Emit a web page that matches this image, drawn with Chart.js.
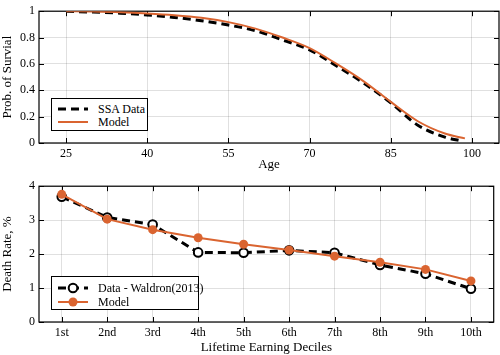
<!DOCTYPE html>
<html>
<head>
<meta charset="utf-8">
<script src="https://cdn.jsdelivr.net/npm/chart.js@4/dist/chart.umd.min.js"></script>
<style>
  html, body { margin: 0; padding: 0; background: #fff; }
  #wrap { position: relative; width: 500px; height: 355px; overflow: hidden; font-family: "Liberation Serif", serif; }
  .cv { position: absolute; left: 0; }
  .legend { position: absolute; border: 1px solid #000; background: #fff; box-sizing: border-box; font-size: 12px; color: #000; }
  .row { position: absolute; left: 0; height: 14px; width: 100%; }
  .row svg { position: absolute; left: 4px; top: 0; }
  .row span { position: absolute; left: 46px; top: 0; line-height: 14px; white-space: nowrap; }
</style>
</head>
<body>
<div id="wrap">
  <div class="cv" style="top:0;width:500px;height:175px"><canvas id="c1" width="500" height="175"></canvas></div>
  <div class="cv" style="top:175px;width:500px;height:180px"><canvas id="c2" width="500" height="180"></canvas></div>
  <div class="legend" style="left:51px;top:98px;width:97px;height:33px">
    <div class="row" style="top:3px">
      <svg width="34" height="14"><line x1="2" y1="7" x2="32" y2="7" stroke="#000" stroke-width="3" stroke-dasharray="8,5"/></svg>
      <span>SSA Data</span>
    </div>
    <div class="row" style="top:16px">
      <svg width="34" height="14"><line x1="2" y1="7" x2="32" y2="7" stroke="#DA6430" stroke-width="2"/></svg>
      <span>Model</span>
    </div>
  </div>
  <div class="legend" style="left:51px;top:276px;width:148px;height:34px">
    <div class="row" style="top:4px">
      <svg width="34" height="14"><line x1="2" y1="7" x2="32" y2="7" stroke="#000" stroke-width="3" stroke-dasharray="8,5"/><circle cx="17" cy="7" r="4.3" fill="#fff" stroke="#000" stroke-width="2"/></svg>
      <span>Data - Waldron(2013)</span>
    </div>
    <div class="row" style="top:18px">
      <svg width="34" height="14"><line x1="2" y1="7" x2="32" y2="7" stroke="#DA6430" stroke-width="2"/><circle cx="17" cy="7" r="4.5" fill="#DA6430"/></svg>
      <span>Model</span>
    </div>
  </div>
</div>
<script>
// ---------- data ----------
const ssaAges     = [25, 30, 35, 40, 45, 50, 55, 60, 65, 70, 75, 80, 85, 90, 95, 98];
const ssaSurvival = [1.0, 0.993, 0.985, 0.972, 0.953, 0.928, 0.895, 0.852, 0.782, 0.706, 0.585, 0.455, 0.305, 0.135, 0.045, 0.016];
const modelAges     = [25, 30, 35, 40, 45, 50, 55, 60, 65, 70, 75, 80, 85, 90, 95, 98.7];
const modelSurvival = [1.0, 0.997, 0.992, 0.983, 0.97, 0.95, 0.917, 0.868, 0.8, 0.72, 0.6, 0.468, 0.312, 0.165, 0.072, 0.035];
const ageTicks = [25, 40, 55, 70, 85, 100];

const deciles = ["1st", "2nd", "3rd", "4th", "5th", "6th", "7th", "8th", "9th", "10th"];
const deathData  = [3.69, 3.08, 2.87, 2.05, 2.04, 2.11, 2.04, 1.68, 1.42, 0.98];
const deathModel = [3.76, 3.03, 2.72, 2.48, 2.29, 2.12, 1.94, 1.76, 1.55, 1.21];

// ---------- style ----------
const ORANGE = "#DA6430";
const FONT = "Liberation Serif";
const GRID = "rgba(0,0,0,0.12)";

const boxTicks = {
  id: "boxTicks",
  beforeDatasetsDraw(chart) {
    const { ctx, chartArea: a, scales } = chart;
    ctx.save();
    ctx.strokeStyle = "#000";
    ctx.lineWidth = 1;
    const L = 5;
    const xs = scales.x, ys = scales.y;
    xs.ticks.forEach((t, i) => {
      const px = Math.round(xs.getPixelForTick(i)) + 0.5;
      ctx.beginPath();
      ctx.moveTo(px, a.bottom); ctx.lineTo(px, a.bottom - L);
      ctx.moveTo(px, a.top); ctx.lineTo(px, a.top + L);
      ctx.stroke();
    });
    ys.ticks.forEach((t, i) => {
      const py = Math.round(ys.getPixelForTick(i)) + 0.5;
      ctx.beginPath();
      ctx.moveTo(a.left, py); ctx.lineTo(a.left + L, py);
      ctx.moveTo(a.right, py); ctx.lineTo(a.right - L, py);
      ctx.stroke();
    });
    ctx.lineWidth = 1.2;
    ctx.strokeRect(a.left, a.top, a.right - a.left, a.bottom - a.top);
    ctx.restore();
  }
};

Chart.defaults.font.family = FONT;
Chart.defaults.color = "#000";

function toPts(xs, ys) { return xs.map((x, i) => ({ x: x, y: ys[i] })); }

new Chart(document.getElementById("c1"), {
  type: "line",
  data: {
    datasets: [
      { label: "Model", data: toPts(modelAges, modelSurvival), borderColor: ORANGE, borderWidth: 2,
        pointRadius: 0, cubicInterpolationMode: "monotone", order: 0 },
      { label: "SSA Data", data: toPts(ssaAges, ssaSurvival), borderColor: "#000", borderWidth: 3,
        borderDash: [8, 5], pointRadius: 0, cubicInterpolationMode: "monotone", order: 1 }
    ]
  },
  options: {
    responsive: false, animation: false, events: [],
    layout: { padding: { top: 5, right: 1, left: 0, bottom: 0 } },
    plugins: { legend: { display: false }, tooltip: { enabled: false } },
    scales: {
      x: {
        type: "linear", min: 20, max: 105,
        afterBuildTicks: s => { s.ticks = ageTicks.map(v => ({ value: v })); },
        afterFit: s => { s.height = 32; },
        grid: { color: GRID, drawTicks: false },
        border: { display: false },
        ticks: { font: { size: 12 }, padding: 3.5, maxRotation: 0 },
        title: { display: true, text: "Age", font: { size: 13 }, padding: { top: 0, bottom: 3 } }
      },
      y: {
        min: 0, max: 1,
        ticks: { stepSize: 0.2, font: { size: 12 }, padding: 4,
                 callback: v => String(Math.round(v * 10) / 10) },
        afterFit: s => { s.width = 39; },
        grid: { color: GRID, drawTicks: false },
        border: { display: false },
        title: { display: true, text: "Prob. of Survial", font: { size: 13 }, padding: { top: 0, bottom: 0 } }
      }
    }
  },
  plugins: [boxTicks]
});

new Chart(document.getElementById("c2"), {
  type: "line",
  data: {
    labels: deciles,
    datasets: [
      { label: "Model", data: deathModel, borderColor: ORANGE, backgroundColor: ORANGE, borderWidth: 2,
        pointRadius: 4.5, pointBorderWidth: 0, tension: 0, order: 0 },
      { label: "Data - Waldron(2013)", data: deathData, borderColor: "#000", backgroundColor: "#fff",
        borderWidth: 3, borderDash: [8, 5], pointRadius: 4.3, pointBorderWidth: 2, tension: 0, order: 1 }
    ]
  },
  options: {
    responsive: false, animation: false, events: [],
    layout: { padding: { top: 7, right: 1, left: 0, bottom: 0 } },
    plugins: { legend: { display: false }, tooltip: { enabled: false } },
    scales: {
      x: {
        type: "category", offset: true,
        afterFit: s => { s.height = 33; },
        grid: { color: GRID, drawTicks: false, offset: false },
        border: { display: false },
        ticks: { font: { size: 12 }, padding: 3.5, maxRotation: 0 },
        title: { display: true, text: "Lifetime Earning Deciles", font: { size: 13 }, padding: { top: 0, bottom: 0 } }
      },
      y: {
        min: 0, max: 4,
        ticks: { stepSize: 1, font: { size: 12 }, padding: 4 },
        afterFit: s => { s.width = 39; },
        grid: { color: GRID, drawTicks: false },
        border: { display: false },
        title: { display: true, text: "Death Rate, %", font: { size: 13 }, padding: { top: 0, bottom: 0 } }
      }
    }
  },
  plugins: [boxTicks]
});
</script>
</body>
</html>
